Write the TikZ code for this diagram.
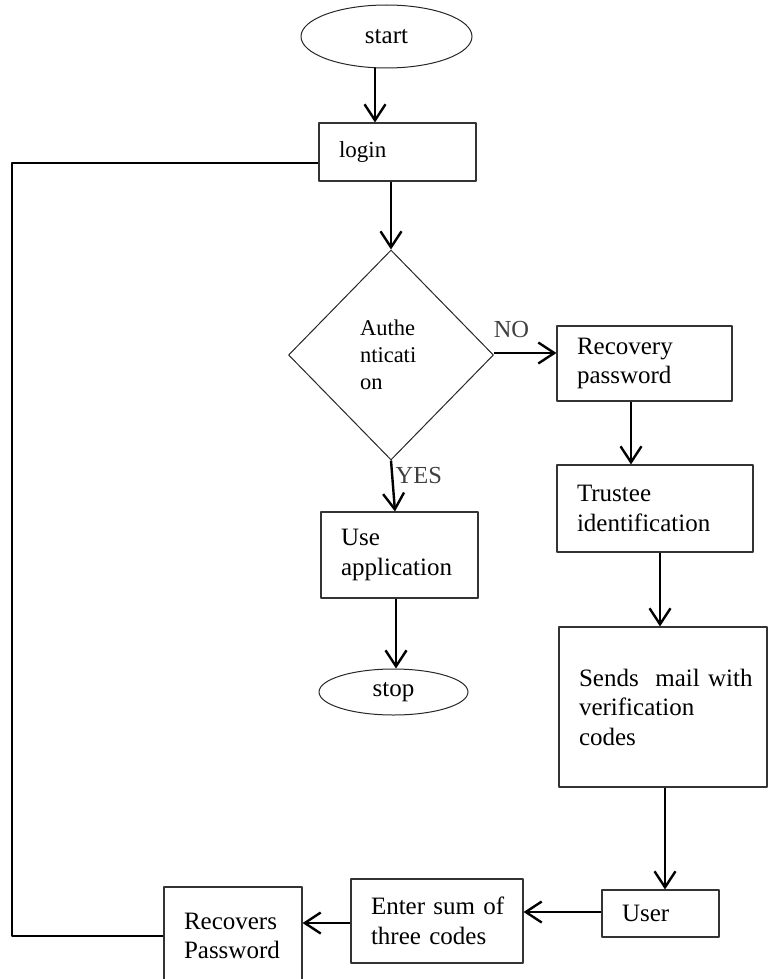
\documentclass[tikz,border=0pt]{standalone}
\usepackage{fontspec}
\setmainfont{Liberation Serif}
\usetikzlibrary{shapes.geometric,arrows.meta}
\begin{document}
\begin{tikzpicture}[x=1pt,y=-1pt,>={Straight Barb[length=16pt,width=21pt]},line join=round,
	box/.style={draw=black!80,line width=1.1pt,rectangle,inner xsep=20pt,inner ysep=0pt,align=left,font=\fontsize{25}{29.5}\selectfont},
	bx/.style 2 args={minimum width=#1pt,minimum height=#2pt,text width=#1pt-40pt},
	term/.style={draw=black!85,line width=1pt,ellipse,inner sep=0pt,font=\fontsize{25}{29}\selectfont},
	arr/.style={->,line width=2.4pt},
	line/.style={line width=2.4pt},
	lab/.style={text=black!75,font=\fontsize{24.5}{29}\selectfont}]
	
	\useasboundingbox (0,0) rectangle (768,979);
	% Các nút
	\node[term,minimum width=171pt,minimum height=63pt] (start) at (386.5,36.5) {start};
	\node[box,bx={157}{58},font=\fontsize{23}{27}\selectfont] (login) at (397.5,152) {login};
	\node[draw=black!85,line width=1pt,diamond,minimum width=205pt,minimum height=210pt,inner sep=0pt,
		text width=62pt,align=left,font=\fontsize{22.5}{27}\selectfont] (auth) at (391,355) {Authe\\nticati\\on};
	\node[box,bx={175}{75}] (recovery) at (644.5,363.5) {Recovery\\password};
	\node[box,bx={196}{87}] (trustee) at (655,508.5) {Trustee\\identification};
	\node[box,bx={208}{160}] (sends) at (663,707) {\mbox{Sends\ \ mail with}\\verification\\codes};
	\node[box,bx={117}{47}] (user) at (660.5,913.5) {User};
	\node[box,bx={172}{84}] (enter) at (437,921) {\mbox{Enter sum of}\\\mbox{three codes}};
	\node[box,bx={138}{98}] (recovers) at (233,936) {Recovers\\Password};
	\node[box,bx={157}{86}] (use) at (399.5,555) {Use\\application};
	\node[term,minimum width=149pt,minimum height=46pt] (stop) at (393.5,692) {stop};
	\coordinate (back) at (12,500);
	% Các mũi tên
	\draw[arr] ([xshift=-11.5pt]start.south) -- ([xshift=-22.5pt]login.north);
	\draw[arr] ([xshift=-6.5pt]login.south) -- (auth.north);
	\draw[arr] ([yshift=2pt]auth.east) -- ([yshift=10.5pt]recovery.west) node[lab,pos=0.28,above=11pt] (no) {NO};
	\draw[arr] (auth.south) -- ([xshift=-4.5pt]use.north) node[lab,pos=0.3,right=-1pt] (yes) {YES};
	\draw[arr] ([xshift=-3.5pt]use.south) -- ([xshift=2.5pt]stop.north);
	\draw[arr] ([xshift=-13.5pt]recovery.south) -- ([xshift=-24pt]trustee.north);
	\draw[arr] ([xshift=5pt]trustee.south) -- ([xshift=-3pt]sends.north);
	\draw[arr] ([xshift=2pt]sends.south) -- ([xshift=4.5pt]user.north);
	\draw[arr] ([yshift=1.5pt]user.west) -- ([yshift=9pt]enter.east);
	\draw[arr] ([yshift=-2pt]enter.west) -- ([yshift=13pt]recovers.east);
	\draw[line] (recovers.west) -| (back) |- ([yshift=-11pt]login.west); % quay lại login
\end{tikzpicture}
\end{document}
